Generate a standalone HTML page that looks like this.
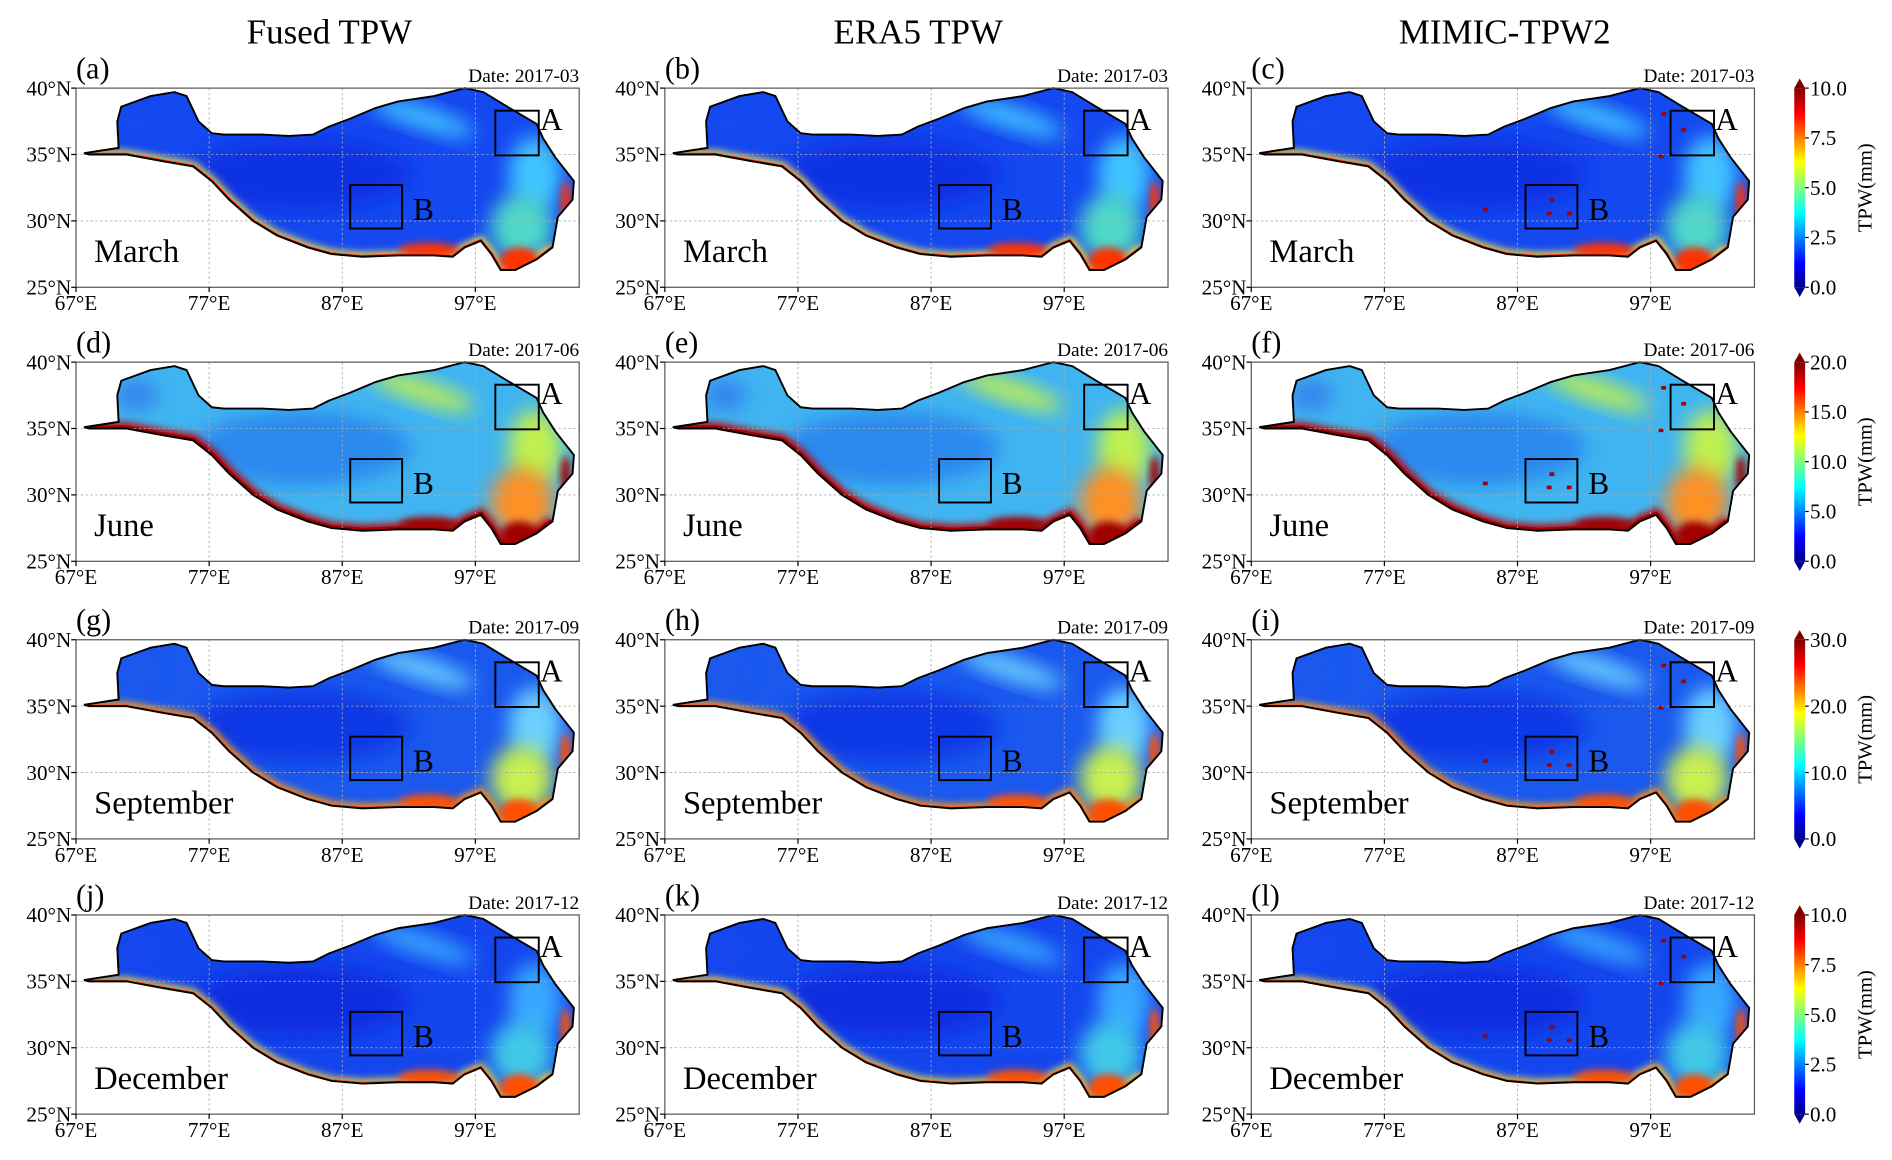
<!DOCTYPE html>
<html><head><meta charset="utf-8"><style>
html,body{margin:0;padding:0;background:#fff}
svg{display:block}
text{font-family:"Liberation Serif",serif;fill:#000}
</style></head><body>
<svg id="fig" width="1892" height="1160" viewBox="0 0 1568 961" preserveAspectRatio="none" xmlns="http://www.w3.org/2000/svg">
<defs>
<filter id="blur8" x="-50%" y="-50%" width="200%" height="200%"><feGaussianBlur stdDeviation="8"/></filter>
<filter id="blur4" x="-50%" y="-50%" width="200%" height="200%"><feGaussianBlur stdDeviation="3"/></filter>
<linearGradient id="jet" x1="0" y1="1" x2="0" y2="0">
<stop offset="0" stop-color="#00008f"/><stop offset="0.12" stop-color="#0000ff"/><stop offset="0.37" stop-color="#00ffff"/><stop offset="0.5" stop-color="#80ff80"/><stop offset="0.63" stop-color="#ffff00"/><stop offset="0.87" stop-color="#ff0000"/><stop offset="1" stop-color="#800000"/>
</linearGradient>
</defs>
<g id="root"></g>
</svg>
<script>
const colTitles=["Fused TPW","ERA5 TPW","MIMIC-TPW2"];
const months=["March","June","September","December"];
const dates=["2017-03","2017-06","2017-09","2017-12"];
const letters=["a","b","c","d","e","f","g","h","i","j","k","l"];
const latTicks=[40,35,30,25];
const lonTicks=[67,77,87,97];
const cbTicks=[[0,2.5,5,7.5,10],[0,5,10,15,20],[0,10,20,30],[0,2.5,5,7.5,10]];
const cbMax=[10,20,30,10];
// seasonal colour schemes
const baseCol=["#1448f0","#40b4f0","#1a58ee","#1446ee"];
const centreCol=["#0c30e4","#2c88ee","#1038e6","#0a2ee0"];
const neCol=["#40c4ff","#c0f050","#6ad0ff","#38a8ff"];
const seCol=["#50d8c8","#ff9020","#c8f050","#40c8e8"];
const rimCol=["#f0e040","#c00000","#ff9a10","#e8d040"];
const edgeCol=["#ff3000","#a00000","#ff5000","#ff5000"];

const X0=[63,551,1037], Y0=[73,300,530,758], W=417, H=165;
const lonMin=67, lonMax=104.8, latMin=25, latMax=40;
const sx=lon=>(lon-lonMin)/(lonMax-lonMin)*W;
const sy=lat=>(latMax-lat)/(latMax-latMin)*H;
const outline=[[67.6,35.1],[70.2,35.5],[70.1,37.5],[70.4,38.6],[72.6,39.4],[74.4,39.7],[75.3,39.4],[76.2,37.5],[77.2,36.6],[78.1,36.5],[81,36.5],[83,36.4],[84.8,36.5],[86,37.1],[87.6,37.7],[89.5,38.5],[91.2,39.0],[93.9,39.4],[96.2,40.0],[97.6,39.7],[99.4,38.6],[101.6,37.3],[102.1,36.2],[103,34.8],[104.4,33],[104.3,31.6],[103.2,30.3],[102.8,28],[101.6,27.1],[100,26.3],[98.9,26.3],[98.2,27.5],[97.4,28.5],[96.2,28],[95.3,27.3],[93.9,27.4],[91.2,27.4],[88.5,27.3],[86.2,27.5],[84.4,28],[82.1,28.9],[80.3,30],[78.5,31.6],[77.2,33],[75.8,34.1],[73.5,34.5],[70.8,35],[68,35]];
const southStart=27;
const root=document.getElementById('root');
const NS="http://www.w3.org/2000/svg";
function el(tag,attrs,parent){const e=document.createElementNS(NS,tag);for(const k in attrs)e.setAttribute(k,attrs[k]);(parent||root).appendChild(e);return e;}
function txt(s,attrs,parent){const t=el('text',attrs,parent);t.textContent=s;return t;}
const pathD=outline.map((p,i)=>(i?'L':'M')+sx(p[0]).toFixed(1)+','+sy(p[1]).toFixed(1)).join('')+'Z';
const southD=outline.slice(southStart).map((p,i)=>(i?'L':'M')+sx(p[0]).toFixed(1)+','+sy(p[1]).toFixed(1)).join('');

colTitles.forEach((t,c)=>{
  const tt=txt(t,{x:X0[c]+210,y:36,'font-size':29,'text-anchor':'middle'});
  
  
});

for(let r=0;r<4;r++){
 for(let c=0;c<3;c++){
  const idx=r*3+c;
  const g=el('g',{transform:`translate(${X0[c]},${Y0[r]})`});
  
  
  const cid='clip'+idx;
  const cp=el('clipPath',{id:cid},g); el('path',{d:pathD},cp);
  const m=el('g',{'clip-path':`url(#${cid})`},g);
  el('rect',{x:0,y:0,width:W,height:H,fill:baseCol[r]},m);
  el('ellipse',{cx:sx(84),cy:sy(33.5),rx:90,ry:30,fill:centreCol[r],filter:'url(#blur8)'},m);
  el('ellipse',{cx:sx(93),cy:sy(37.8),rx:45,ry:9,fill:neCol[r],filter:'url(#blur8)',transform:`rotate(18 ${sx(93)} ${sy(37.8)})`},m);
  el('ellipse',{cx:sx(101.5),cy:sy(33.5),rx:22,ry:32,fill:neCol[r],filter:'url(#blur8)'},m);
  el('ellipse',{cx:sx(100.5),cy:sy(29.5),rx:26,ry:28,fill:seCol[r],filter:'url(#blur8)'},m);
  el('ellipse',{cx:sx(71.5),cy:sy(37.5),rx:18,ry:12,fill:r===1?'#3080ee':baseCol[r],filter:'url(#blur8)'},m);
  el('path',{d:southD,fill:'none',stroke:rimCol[r],'stroke-width':r===1?10:7,filter:'url(#blur4)'},m);
  el('path',{d:southD,fill:'none',stroke:edgeCol[r],'stroke-width':r===1?5:3},m);
  el('ellipse',{cx:sx(93.5),cy:sy(27.8),rx:25,ry:6,fill:edgeCol[r],filter:'url(#blur4)'},m);
  el('ellipse',{cx:sx(100.3),cy:sy(27),rx:16,ry:11,fill:edgeCol[r],filter:'url(#blur4)'},m);
  el('ellipse',{cx:sx(103.8),cy:sy(31.5),rx:4,ry:16,fill:edgeCol[r],filter:'url(#blur4)'},m);
  if(c===2){
    [[99.3,37.0],[89.2,30.7],[90.7,30.7],[84.4,31.0],[97.6,35.0],[97.8,38.2],[89.4,31.7]].forEach(p=>{
      const px=el('rect',{x:sx(p[0]),y:sy(p[1]),width:4,height:3,fill:'#a00000'},m);
      
      
    });
  }
  lonTicks.slice(1).forEach(l=>el('line',{x1:sx(l),x2:sx(l),y1:0,y2:H,stroke:'#aaa','stroke-width':0.7,'stroke-dasharray':'2,2'},g));
  [35,30].forEach(l=>el('line',{x1:0,x2:W,y1:sy(l),y2:sy(l),stroke:'#aaa','stroke-width':0.7,'stroke-dasharray':'2,2'},g));
  const ol=el('path',{d:pathD,fill:'none',stroke:'#000','stroke-width':1.6},g);
  
  
  el('rect',{x:0,y:0,width:W,height:H,fill:'none',stroke:'#555','stroke-width':1},g);
  const bA=el('rect',{x:sx(98.5),y:sy(38.3),width:36,height:37,fill:'none',stroke:'#000','stroke-width':1.6},g);
  
  
  txt('A',{x:sx(98.5)+37,y:sy(38.3)+16,'font-size':26},g);
  const bB=el('rect',{x:sx(87.6),y:sy(32.7),width:43,height:36,fill:'none',stroke:'#000','stroke-width':1.6},g);
  
  
  txt('B',{x:sx(87.6)+52,y:sy(32.7)+29,'font-size':26},g);
  const ml=txt(months[r],{x:15,y:144,'font-size':27},g);
  
  
  txt('('+letters[idx]+')',{x:0,y:-8,'font-size':25},g);
  txt('Date: '+dates[r],{x:W,y:-5,'font-size':16,'text-anchor':'end'},g);
  latTicks.forEach(l=>{
    el('line',{x1:-4,x2:0,y1:sy(l),y2:sy(l),stroke:'#000'},g);
    txt(l+'°N',{x:-4,y:sy(l)+6,'font-size':17.5,'text-anchor':'end'},g);
  });
  lonTicks.forEach(l=>{
    el('line',{x1:sx(l),x2:sx(l),y1:H,y2:H+4,stroke:'#000'},g);
    txt(l+'°E',{x:sx(l),y:H+19,'font-size':17.5,'text-anchor':'middle'},g);
  });
 }
 const cb=el('g',{transform:`translate(1487,${Y0[r]})`});
 
 
 el('rect',{x:0,y:0,width:9,height:H,fill:'url(#jet)'},cb);
 el('path',{d:'M0,0L4.5,-8L9,0Z',fill:'#800000'},cb);
 el('path',{d:`M0,${H}L4.5,${H+8}L9,${H}Z`,fill:'#00008f'},cb);
 cbTicks[r].forEach(v=>{
   const y=H-v/cbMax[r]*H;
   el('line',{x1:9,x2:12,y1:y,y2:y,stroke:'#000'},cb);
   txt(v.toFixed(1),{x:13,y:y+6,'font-size':17.5},cb);
 });
 const lab=txt('TPW(mm)',{x:0,y:0,'font-size':17,'text-anchor':'middle',transform:`translate(64,${H/2}) rotate(-90)`},cb);
 
 
}
</script>
</body></html>
